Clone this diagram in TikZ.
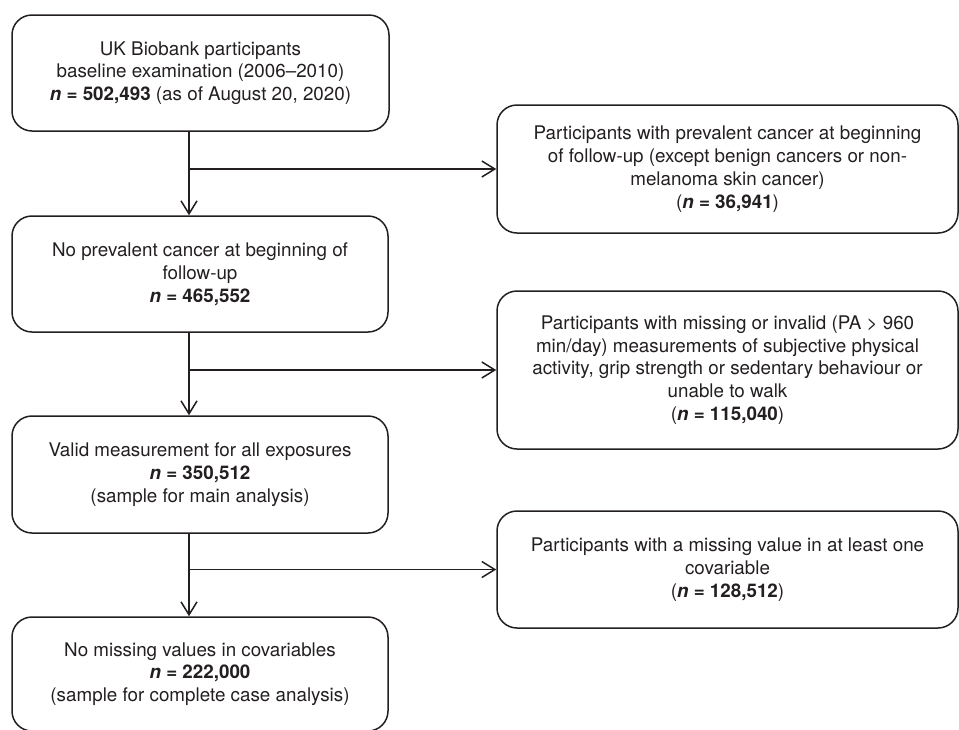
\documentclass[tikz,border=0pt]{standalone}
\usepackage{fontspec}
\setmainfont{TeX Gyre Heros}
\usetikzlibrary{arrows.meta}
\definecolor{ink}{HTML}{231F20}
\newcommand{\nn}[1]{\textbf{\textit{n} = #1}}
\begin{document}
\begin{tikzpicture}[x=1pt,y=-1pt,
  box/.style={draw=ink, line width=1.5pt, rounded corners=20pt, text=ink,
    align=center, inner sep=0pt, font=\fontsize{18.8}{22.8}\selectfont},
  arr/.style={draw=ink, line width=1.5pt, -{Straight Barb[length=13pt,width=16pt,line width=1.5pt]}}]
\useasboundingbox (0,0) rectangle (959,729);
% left column
\node[box, minimum width=377pt, minimum height=116pt] (b1) at (200.5,73)
  {UK Biobank participants\\baseline examination (2006--2010)\\\nn{502,493} (as of August 20, 2020)};
\node[box, minimum width=376pt, minimum height=116pt] (b2) at (200,274)
  {No prevalent cancer at beginning of\\follow-up\\\nn{465,552}};
\node[box, minimum width=376pt, minimum height=117pt] (b3) at (200,474.5)
  {Valid measurement for all exposures\\\nn{350,512}\\(sample for main analysis)};
\node[box, minimum width=376pt, minimum height=114pt] (b4) at (200,674)
  {No missing values in covariables\\\nn{222,000}\\(sample for complete case analysis)};
% right column
\node[box, minimum width=461pt, minimum height=128pt] (s1) at (727.5,169)
  {Participants with prevalent cancer at beginning\\of follow-up (except benign cancers or non-\\melanoma skin cancer)\\(\nn{36,941})};
\node[box, minimum width=461pt, minimum height=158pt] (s2) at (727.5,370)
  {Participants with missing or invalid (PA > 960\\min/day) measurements of subjective physical\\activity, grip strength or sedentary behaviour or\\unable to walk\\(\nn{115,040})};
\node[box, minimum width=461pt, minimum height=117pt] (s3) at (727.5,569.5)
  {Participants with a missing value in at least one\\covariable\\(\nn{128,512})};
% junctions
\coordinate (j1) at (189,169);
\coordinate (j2) at (189,370);
\coordinate (j3) at (189,569.5);
% connectors
\draw[arr] (b1.south -| j1) -- (b2.north -| j1);
\draw[arr] (j1) -- (j1 -| s1.west);
\draw[arr] (b2.south -| j2) -- (b3.north -| j2);
\draw[arr] (j2) -- (j2 -| s2.west);
\draw[arr] (b3.south -| j3) -- (b4.north -| j3);
\draw[arr] (j3) -- (j3 -| s3.west);
\end{tikzpicture}
\end{document}
